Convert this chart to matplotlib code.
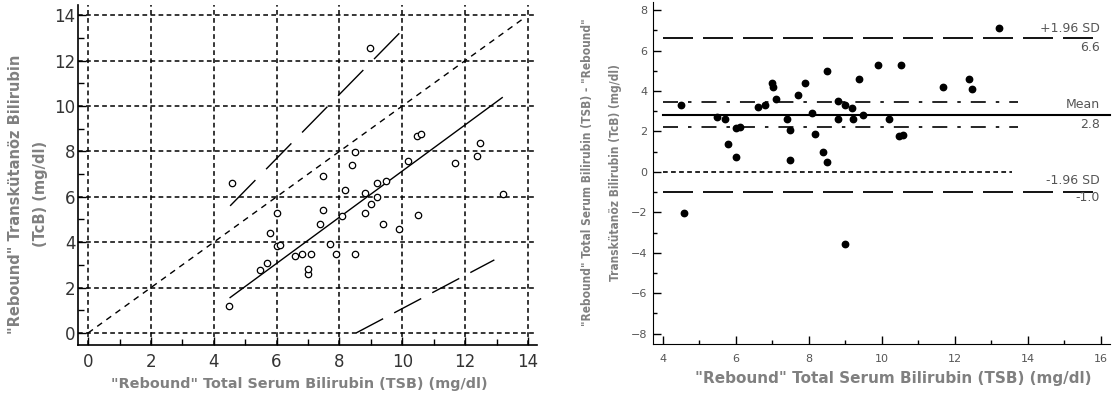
import matplotlib
matplotlib.use("Agg")
import matplotlib.pyplot as plt
import numpy as np
from matplotlib.ticker import MultipleLocator

plt.rcParams['lines.scale_dashes'] = False
plt.rcParams['font.family'] = ['DejaVu Sans']

# Paired measurements (mg/dl)
tsb = np.array([4.49, 4.58, 5.48, 5.70, 5.79, 6.00, 6.00, 6.10, 6.60, 6.80,
                7.00, 7.01, 7.10, 7.39, 7.49, 7.49, 7.69, 7.90, 8.09, 8.17,
                8.39, 8.49, 8.49, 8.80, 8.80, 8.98, 9.00, 9.19, 9.21, 9.38,
                9.49, 9.89, 10.19, 10.47, 10.58, 10.51, 11.68, 12.39, 12.48, 13.20])
tcb = np.array([1.20, 6.59, 2.78, 3.09, 4.39, 5.28, 3.81, 3.89, 3.40, 3.50,
                2.61, 2.82, 3.49, 4.79, 5.40, 6.90, 3.90, 3.50, 5.17, 6.29,
                7.39, 7.99, 3.50, 5.28, 6.18, 12.57, 5.69, 6.01, 6.60, 4.79,
                6.70, 4.59, 7.57, 8.68, 8.78, 5.21, 7.48, 7.80, 8.37, 6.11])
diff = tsb - tcb

# Left panel reference lines (end points)
identity_x = [0.0, 13.9]
fit_x, fit_y = [4.52, 13.18], [1.56, 10.37]
upper_x, upper_y = [4.52, 10.03], [5.60, 13.38]
lower_x, lower_y = [8.53, 12.93], [0.00, 3.22]

# Bland-Altman statistics
mean_diff = 2.8
loa_upper = 6.6
loa_lower = -1.0
mean_ci = [2.2, 3.45]
loa_x = [4.0, 15.97]
mean_x = [4.0, 16.25]
ci_x = [4.0, 13.73]
zero_x = [4.0, 13.56]

label_gray = '#808080'

fig = plt.figure(figsize=(11.15, 4), dpi=100)

# ---------------- left: scatter with identity / fit ----------------
ax1 = fig.add_axes([0.0700, 0.1375, 0.4117, 0.85])
ax1.set_xlim(-0.32, 14.29)
ax1.set_ylim(-0.53, 14.45)
for s in ('top', 'right'):
    ax1.spines[s].set_visible(False)
for s in ('left', 'bottom'):
    ax1.spines[s].set_linewidth(1.2)
ax1.xaxis.set_major_locator(MultipleLocator(2))
ax1.xaxis.set_minor_locator(MultipleLocator(1))
ax1.yaxis.set_major_locator(MultipleLocator(2))
ax1.yaxis.set_minor_locator(MultipleLocator(1))
ax1.tick_params(which='both', direction='in', colors='k', width=1)
ax1.tick_params(which='major', length=6, labelsize=12, labelcolor='#333333')
ax1.tick_params(which='minor', length=4)
ax1.tick_params(axis='y', pad=2)
ax1.tick_params(axis='x', pad=6)
ax1.grid(True, which='major', color='k', linewidth=1.1, linestyle=(0, (3.4, 2.4)))
ax1.set_axisbelow(True)

ax1.plot(identity_x, identity_x, color='k', lw=1.0, linestyle=(0, (4.3, 3.8)))
ax1.plot(fit_x, fit_y, color='k', lw=1.0)
ax1.plot(upper_x, upper_y, color='k', lw=1.0, linestyle=(0, (26, 11)))
ax1.plot(lower_x, lower_y, color='k', lw=1.0, linestyle=(0, (22, 9)))
ax1.plot(tsb, tcb, 'o', mfc='white', mec='k', ms=4.6, mew=0.9)

ax1.set_xlabel('"Rebound" Total Serum Bilirubin (TSB) (mg/dl)', fontsize=10.4,
               fontweight='bold', color=label_gray)
ax1.xaxis.set_label_coords(0.481, -0.094)
fig.text(16 / 1115, 1 - 194 / 400, '"Rebound" Transkütanöz Bilirubin', rotation=90,
         ha='center', va='center', fontsize=10.5, fontweight='bold', color=label_gray)
fig.text(40 / 1115, 1 - 194 / 400, '(TcB) (mg/dl)', rotation=90,
         ha='center', va='center', fontsize=10.5, fontweight='bold', color=label_gray)

# ---------------- right: Bland-Altman ----------------
ax2 = fig.add_axes([0.5857, 0.14, 0.4099, 0.855])
ax2.set_xlim(3.73, 16.25)
ax2.set_ylim(-8.51, 8.4)
for s in ('top', 'right'):
    ax2.spines[s].set_visible(False)
ax2.xaxis.set_major_locator(MultipleLocator(2))
ax2.xaxis.set_minor_locator(MultipleLocator(1))
ax2.yaxis.set_major_locator(MultipleLocator(2))
ax2.yaxis.set_minor_locator(MultipleLocator(1))
ax2.tick_params(which='both', direction='in', colors='k', width=1)
ax2.tick_params(which='major', length=6, labelsize=8, labelcolor='#555555')
ax2.tick_params(which='minor', length=3)
ax2.tick_params(axis='y', pad=4)
ax2.tick_params(axis='x', pad=7)

ax2.plot(loa_x, [loa_upper] * 2, color='k', lw=1.3, linestyle=(0, (21.6, 7.2)))
ax2.plot(loa_x, [loa_lower] * 2, color='k', lw=1.3, linestyle=(0, (21.6, 7.2)))
ax2.plot(mean_x, [mean_diff] * 2, color='k', lw=1.5, clip_on=False)
for c in mean_ci:
    ax2.plot(ci_x, [c] * 2, color='k', lw=1.2, linestyle=(0, (10.8, 7.2, 2.5, 7.2)))
ax2.plot(zero_x, [0, 0], color='k', lw=1.2, linestyle=(0, (3.4, 2.4)))
ax2.plot(tsb, diff, 'o', color='k', ms=4.6)

txt = dict(ha='right', va='center', fontsize=9, color='#555555')
ax2.text(loa_x[1], 7.08, '+1.96 SD', **txt)
ax2.text(loa_x[1], 6.14, f'{loa_upper:.1f}', **txt)
ax2.text(loa_x[1], 3.32, 'Mean', **txt)
ax2.text(loa_x[1], 2.33, f'{mean_diff:.1f}', **txt)
ax2.text(loa_x[1], -0.45, '-1.96 SD', **txt)
ax2.text(loa_x[1], -1.29, f'{loa_lower:.1f}', **txt)

ax2.set_xlabel('"Rebound" Total Serum Bilirubin (TSB) (mg/dl)', fontsize=11,
               fontweight='bold', color=label_gray)
ax2.xaxis.set_label_coords(0.525, -0.079)
fig.text(588 / 1115, 1 - 172 / 400, '"Rebound" Total Serum Bilirubin (TSB) - "Rebound"',
         rotation=90, ha='center', va='center', fontsize=8.6, fontweight='bold',
         fontstretch='condensed', color=label_gray)
fig.text(616 / 1115, 1 - 173 / 400, 'Transkütanöz Bilirubin (TcB) (mg/dl)',
         rotation=90, ha='center', va='center', fontsize=8.6, fontweight='bold',
         fontstretch='condensed', color=label_gray)

fig.savefig('out.png', dpi=100, facecolor='white')
